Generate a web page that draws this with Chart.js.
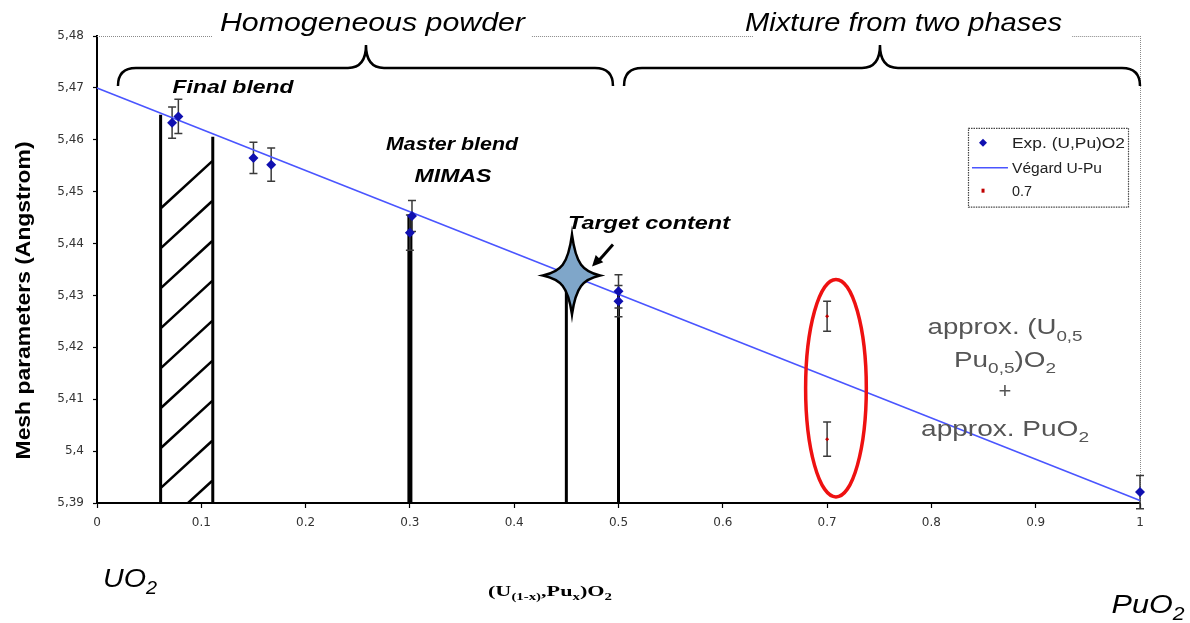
<!DOCTYPE html>
<html>
<head>
<meta charset="utf-8">
<script src="https://cdn.jsdelivr.net/npm/chart.js@4"></script>
<style>
html,body{margin:0;padding:0;background:#fff;}
#c{display:block;}
</style>
</head>
<body>
<canvas id="c" width="1190" height="623"></canvas>
<script>
// ---------- data ----------
const seriesLabels = ['Exp. (U,Pu)O2', 'Végard U-Pu', '0.7'];
const expX   = [0.072, 0.078, 0.15, 0.167, 0.3, 0.302, 0.5, 0.5, 1.0];
const expY   = [5.4633, 5.4645, 5.4565, 5.4552, 5.4421, 5.4453, 5.4308, 5.4289, 5.3921];
const expErr = [0.0030, 0.0033, 0.0030, 0.0032, 0.0034, 0.0030, 0.0032, 0.0030, 0.0032];
const redX   = [0.7, 0.7];
const redY   = [5.4260, 5.4023];
const redErr = [0.0029, 0.0033];
const vegX   = [0, 1];
const vegY   = [5.47, 5.3905];
const xTickValues = [0, 0.1, 0.2, 0.3, 0.4, 0.5, 0.6, 0.7, 0.8, 0.9, 1];
const yTickValues = [5.39, 5.40, 5.41, 5.42, 5.43, 5.44, 5.45, 5.46, 5.47, 5.48];
// vertical composition markers (x, top value, width)
const markerX   = [0.061, 0.111, 0.3, 0.45, 0.5];
const markerTop = [5.4648, 5.4606, 5.4456, 5.4339, 5.4310];
const markerW   = [3, 3, 5, 3, 3];
// hatch between the first two markers: upper-right end values
const hatchTop = [5.4558, 5.4481, 5.4404, 5.4327, 5.4250, 5.4173, 5.4096, 5.4019, 5.3942];

const FONT = "'Liberation Sans', Arial, sans-serif";

const toPts = (xs, ys) => xs.map((x, i) => ({x: x, y: ys[i]}));

function richText(ctx, segs, cx, by, size, family, style, targetW, color, align) {
  ctx.save();
  const f = sub => `${style} ${sub ? Math.round(size * 0.68) : size}px ${family}`;
  let w = 0;
  for (const s of segs) { ctx.font = f(s[1]); w += ctx.measureText(s[0]).width; }
  const k = targetW ? targetW / w : 1;
  const startX = align === 'left' ? cx : cx - w * k / 2;
  ctx.translate(startX, by);
  ctx.scale(k, 1);
  ctx.fillStyle = color;
  ctx.textAlign = 'left';
  ctx.textBaseline = 'alphabetic';
  let x = 0;
  for (const s of segs) {
    ctx.font = f(s[1]);
    ctx.fillText(s[0], x, s[1] ? size * 0.28 : 0);
    x += ctx.measureText(s[0]).width;
  }
  ctx.restore();
}

function brace(ctx, X, Y, x1, x2, xm, yEnd, yFlat, yPeak) {
  const a = X(x1), b = X(x2), m = X(xm), ye = Y(yEnd), yf = Y(yFlat), yp = Y(yPeak);
  const r = 18;
  ctx.beginPath();
  ctx.moveTo(a, ye);
  ctx.quadraticCurveTo(a, yf, a + r, yf);
  ctx.lineTo(m - r, yf);
  ctx.quadraticCurveTo(m, yf, m, yp);
  ctx.quadraticCurveTo(m, yf, m + r, yf);
  ctx.lineTo(b - r, yf);
  ctx.quadraticCurveTo(b, yf, b, ye);
  ctx.stroke();
}

const annotPlugin = {
  id: 'annot',
  beforeDatasetsDraw(chart) {
    const ctx = chart.ctx, xs = chart.scales.x, ys = chart.scales.y;
    const X = v => xs.getPixelForValue(v), Y = v => ys.getPixelForValue(v);
    const ca = chart.chartArea;
    ctx.save();
    // top and right dotted frame
    ctx.strokeStyle = '#8a8a8a'; ctx.lineWidth = 1; ctx.setLineDash([1, 1]);
    [[0, 0.111], [0.417, 0.629], [0.935, 1]].forEach(s => {
      ctx.beginPath(); ctx.moveTo(X(s[0]), Y(5.48) + 0.5); ctx.lineTo(X(s[1]), Y(5.48) + 0.5); ctx.stroke();
    });
    ctx.beginPath(); ctx.moveTo(X(1) + 0.5, Y(5.48)); ctx.lineTo(X(1) + 0.5, Y(5.39)); ctx.stroke();
    ctx.setLineDash([]);
    // vertical markers
    ctx.strokeStyle = '#000';
    markerX.forEach((mx, i) => {
      ctx.lineWidth = markerW[i];
      ctx.beginPath(); ctx.moveTo(X(mx), Y(markerTop[i])); ctx.lineTo(X(mx), Y(5.39)); ctx.stroke();
    });
    // hatch
    ctx.save();
    ctx.beginPath(); ctx.rect(ca.left, ca.top, ca.right - ca.left, ca.bottom - ca.top); ctx.clip();
    ctx.lineWidth = 2.5; ctx.lineCap = 'round';
    hatchTop.forEach(t => {
      ctx.beginPath();
      ctx.moveTo(X(0.062), Y(t - 0.00885));
      ctx.lineTo(X(0.110), Y(t));
      ctx.stroke();
    });
    ctx.restore();
    // error bars
    chart.data.datasets.forEach((ds, di) => {
      if (!ds.errors) return;
      ctx.strokeStyle = '#3a3a3a'; ctx.lineWidth = 1.5;
      ds.data.forEach((p, j) => {
        const e = ds.errors[j], px = X(p.x), y1 = Y(p.y + e), y2 = Y(p.y - e);
        ctx.beginPath();
        ctx.moveTo(px, y1); ctx.lineTo(px, y2);
        ctx.moveTo(px - 4, y1); ctx.lineTo(px + 4, y1);
        ctx.moveTo(px - 4, y2); ctx.lineTo(px + 4, y2);
        ctx.stroke();
      });
    });
    ctx.restore();
  },
  afterDatasetsDraw(chart) {
    const ctx = chart.ctx, xs = chart.scales.x, ys = chart.scales.y;
    const X = v => xs.getPixelForValue(v), Y = v => ys.getPixelForValue(v);
    ctx.save();
    // star (target content)
    const cx = X(0.4554), cy = Y(5.43385);
    const up = Y(5.43385) - Y(5.43385 + 0.00788), dn = Y(5.43385 - 0.0075) - Y(5.43385);
    const lf = X(0.4554) - X(0.4554 - 0.0278), rt = X(0.4554 + 0.0268) - X(0.4554);
    const a = 4, b = 11;
    ctx.beginPath();
    ctx.moveTo(cx, cy - up);
    ctx.bezierCurveTo(cx + a, cy - b, cx + b, cy - a, cx + rt, cy);
    ctx.bezierCurveTo(cx + b, cy + a, cx + a, cy + b, cx, cy + dn);
    ctx.bezierCurveTo(cx - a, cy + b, cx - b, cy + a, cx - lf, cy);
    ctx.bezierCurveTo(cx - b, cy - a, cx - a, cy - b, cx, cy - up);
    ctx.closePath();
    ctx.fillStyle = '#7fa6c9'; ctx.fill();
    ctx.strokeStyle = '#000'; ctx.lineWidth = 2.5; ctx.stroke();
    // arrow
    const ax1 = X(0.4947), ay1 = Y(5.43981), ax2 = X(0.4746), ay2 = Y(5.43558);
    ctx.lineWidth = 3; ctx.beginPath(); ctx.moveTo(ax1, ay1); ctx.lineTo(ax2 + 6, ay2 - 5); ctx.stroke();
    const ang = Math.atan2(ay2 - ay1, ax2 - ax1);
    ctx.beginPath();
    ctx.moveTo(ax2, ay2);
    ctx.lineTo(ax2 - 12 * Math.cos(ang - 0.45), ay2 - 12 * Math.sin(ang - 0.45));
    ctx.lineTo(ax2 - 12 * Math.cos(ang + 0.45), ay2 - 12 * Math.sin(ang + 0.45));
    ctx.closePath(); ctx.fillStyle = '#000'; ctx.fill();
    // red ellipse
    ctx.strokeStyle = '#ee1111'; ctx.lineWidth = 3.5;
    ctx.beginPath();
    ctx.ellipse(X(0.7085), Y(5.41212), X(0.7085 + 0.0291) - X(0.7085), Y(5.41212) - Y(5.41212 + 0.02096), 0, 0, Math.PI * 2);
    ctx.stroke();
    // braces
    ctx.strokeStyle = '#000'; ctx.lineWidth = 2.5;
    brace(ctx, X, Y, 0.0201, 0.4947, 0.2579, 5.47038, 5.47385, 5.47827);
    brace(ctx, X, Y, 0.5053, 1.0, 0.7507, 5.47038, 5.47385, 5.47827);
    // headings
    richText(ctx, [['Homogeneous powder']], X(0.2641), Y(5.48096), 26, FONT, 'italic', 305, '#000');
    richText(ctx, [['Mixture from two phases']], X(0.7733), Y(5.48096), 26, FONT, 'italic', 317, '#000');
    // blend labels
    richText(ctx, [['Final blend']], X(0.1304), Y(5.46904), 18, FONT, 'italic bold', 121, '#000');
    richText(ctx, [['Master blend']], X(0.3404), Y(5.45808), 18, FONT, 'italic bold', 132, '#000');
    richText(ctx, [['MIMAS']], X(0.3413), Y(5.45192), 18, FONT, 'italic bold', 77, '#000');
    richText(ctx, [['Target content']], X(0.5292), Y(5.44288), 18, FONT, 'italic bold', 162, '#000');
    // two-phase note
    const g = '#555';
    richText(ctx, [['approx. (U'], ['0,5', 1]], X(0.8706), Y(5.4225), 22, FONT, 'normal', 155, g);
    richText(ctx, [['Pu'], ['0,5', 1], [')O'], ['2', 1]], X(0.8706), Y(5.41615), 22, FONT, 'normal', 102, g);
    richText(ctx, [['+']], X(0.8706), Y(5.41019), 22, FONT, 'normal', 0, g);
    richText(ctx, [['approx. PuO'], ['2', 1]], X(0.8706), Y(5.40288), 22, FONT, 'normal', 168, g);
    // end members and composition
    richText(ctx, [['UO'], ['2', 1]], X(0.0316), Y(5.37385), 26, FONT, 'italic', 54, '#000');
    richText(ctx, [['PuO'], ['2', 1]], X(1.0077), Y(5.36885), 26, FONT, 'italic', 73, '#000');
    richText(ctx, [['(U'], ['(1-x)', 1], [',Pu'], ['x', 1], [')O'], ['2', 1]], X(0.4343), Y(5.37212), 15,
      "'Liberation Serif', 'Times New Roman', serif", 'bold', 124, '#000');
    // y axis title
    ctx.save();
    ctx.translate(X(-0.0709), Y(5.42904));
    ctx.rotate(-Math.PI / 2);
    richText(ctx, [['Mesh parameters (Angstrom)']], 0, 7, 20, FONT, 'bold', 318, '#000');
    ctx.restore();
    // legend
    const lx1 = X(0.8351), lx2 = X(0.9885), ly1 = Y(5.46231), ly2 = Y(5.44712);
    ctx.fillStyle = '#fff'; ctx.fillRect(lx1, ly1, lx2 - lx1, ly2 - ly1);
    ctx.strokeStyle = '#444'; ctx.lineWidth = 1.2; ctx.setLineDash([1.5, 1]);
    ctx.strokeRect(lx1 + 0.5, ly1 + 0.5, lx2 - lx1, ly2 - ly1);
    ctx.setLineDash([]);
    const ds = chart.data.datasets;
    const rowY = [Y(5.45942), Y(5.45462), Y(5.45019)];
    const symX = X(0.8495);
    ctx.fillStyle = ds[0].backgroundColor;
    ctx.beginPath(); ctx.moveTo(symX, rowY[0] - 4); ctx.lineTo(symX + 4, rowY[0]); ctx.lineTo(symX, rowY[0] + 4); ctx.lineTo(symX - 4, rowY[0]); ctx.closePath(); ctx.fill();
    ctx.strokeStyle = ds[1].borderColor; ctx.lineWidth = 1.5;
    ctx.beginPath(); ctx.moveTo(X(0.8389), rowY[1]); ctx.lineTo(X(0.8734), rowY[1]); ctx.stroke();
    ctx.fillStyle = ds[2].backgroundColor;
    ctx.fillRect(symX - 1.5, rowY[2] - 2, 3, 4);
    const tw = [113, 90, 20];
    ds.forEach((d, i) => {
      richText(ctx, [[d.label]], X(0.8773), rowY[i] + 5, 14, FONT, 'normal', tw[i], '#222', 'left');
    });
    ctx.restore();
  }
};

new Chart(document.getElementById('c'), {
  type: 'scatter',
  data: {
    datasets: [
      {
        label: seriesLabels[0], data: toPts(expX, expY), errors: expErr, clip: false,
        pointStyle: 'rectRot', pointRadius: 5, backgroundColor: '#1010b0', borderColor: '#1010b0', borderWidth: 0
      },
      {
        label: seriesLabels[1], type: 'line', data: toPts(vegX, vegY), clip: false,
        borderColor: '#4a55ff', borderWidth: 1.6, pointRadius: 0, fill: false, tension: 0
      },
      {
        label: seriesLabels[2], data: toPts(redX, redY), errors: redErr, clip: false,
        pointStyle: 'rectRot', pointRadius: 2, backgroundColor: '#c00000', borderColor: '#c00000', borderWidth: 0
      }
    ]
  },
  options: {
    responsive: false,
    animation: false,
    devicePixelRatio: 1,
    layout: { padding: { left: 0, right: 50, top: 36, bottom: 0 } },
    plugins: { legend: { display: false }, tooltip: { enabled: false } },
    scales: {
      x: {
        type: 'linear', min: 0, max: 1,
        afterFit: s => { s.height = 120; },
        afterBuildTicks: s => { s.ticks = xTickValues.map(v => ({ value: v })); },
        ticks: {
          callback: v => String(+(+v).toFixed(1)),
          color: '#333', font: { family: "'DejaVu Sans', sans-serif", size: 12 }, padding: 8, maxRotation: 0
        },
        grid: { display: true, drawOnChartArea: false, drawTicks: true, tickLength: 5, color: '#000', tickWidth: 1.2 },
        border: { display: true, color: '#000', width: 2 }
      },
      y: {
        type: 'linear', min: 5.39, max: 5.48,
        afterFit: s => { s.width = 97; },
        afterBuildTicks: s => { s.ticks = yTickValues.map(v => ({ value: v })); },
        ticks: {
          callback: v => String(+(+v).toFixed(2)).replace('.', ','),
          color: '#333', font: { family: "'DejaVu Sans', sans-serif", size: 12 }, padding: 9
        },
        grid: { display: true, drawOnChartArea: false, drawTicks: true, tickLength: 4, color: '#000', tickWidth: 1.2 },
        border: { display: true, color: '#000', width: 2 }
      }
    }
  },
  plugins: [annotPlugin]
});
</script>
</body>
</html>
